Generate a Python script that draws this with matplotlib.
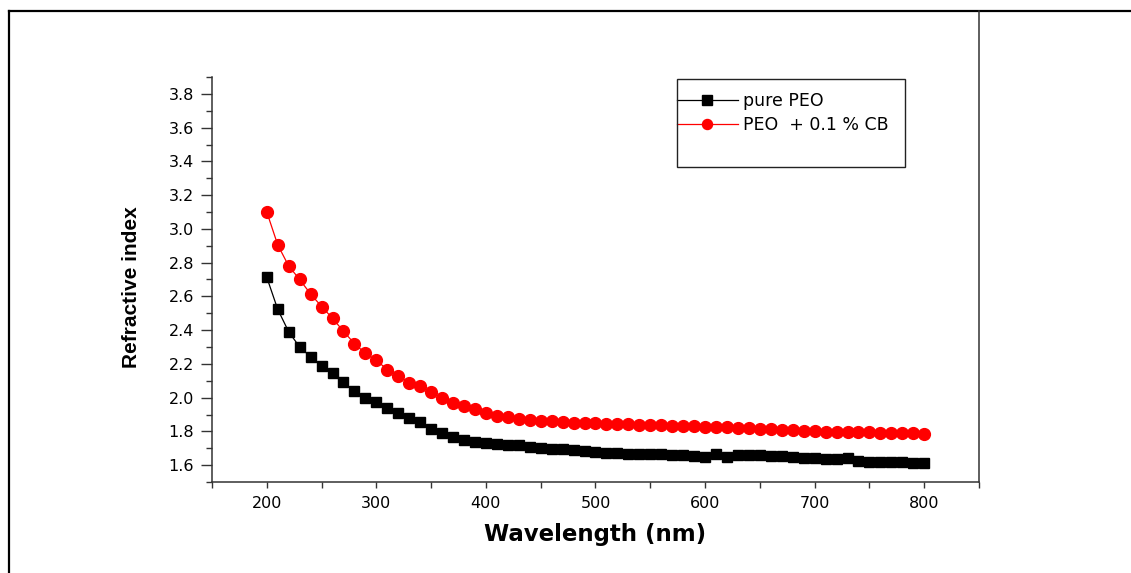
import matplotlib
matplotlib.use("Agg")
import matplotlib.pyplot as plt
from matplotlib import font_manager
from matplotlib.lines import Line2D
from matplotlib.patches import Rectangle
from matplotlib.ticker import MultipleLocator

# Data
wavelength = list(range(200, 801, 10))

pure_peo = [2.713, 2.523, 2.390, 2.300, 2.242, 2.185, 2.146, 2.091, 2.039, 1.997,
            1.972, 1.938, 1.906, 1.877, 1.857, 1.817, 1.788, 1.764, 1.748, 1.740,
            1.732, 1.728, 1.722, 1.717, 1.709, 1.703, 1.697, 1.693, 1.689, 1.685,
            1.679, 1.673, 1.669, 1.667, 1.667, 1.665, 1.663, 1.661, 1.659, 1.655,
            1.649, 1.665, 1.649, 1.661, 1.660, 1.658, 1.656, 1.654, 1.649, 1.640,
            1.645, 1.634, 1.634, 1.641, 1.622, 1.621, 1.620, 1.618, 1.616, 1.613,
            1.611]

peo_cb = [3.100, 2.905, 2.780, 2.700, 2.614, 2.540, 2.470, 2.393, 2.320, 2.262,
          2.221, 2.166, 2.130, 2.088, 2.069, 2.035, 1.995, 1.966, 1.950, 1.930,
          1.907, 1.890, 1.883, 1.875, 1.867, 1.863, 1.860, 1.855, 1.852, 1.848,
          1.847, 1.845, 1.843, 1.841, 1.839, 1.837, 1.835, 1.833, 1.831, 1.829,
          1.827, 1.825, 1.823, 1.821, 1.819, 1.817, 1.814, 1.811, 1.808, 1.804,
          1.800, 1.799, 1.797, 1.796, 1.795, 1.794, 1.793, 1.792, 1.790, 1.789,
          1.785]

labels = ["pure PEO", "PEO  + 0.1 % CB"]

# narrow font for the y label if there is one
installed = {f.name for f in font_manager.fontManager.ttflist}
if "Liberation Sans Narrow" in installed:
    ylab_font, ylab_size = "Liberation Sans Narrow", 17.5
elif "DejaVu Sans Condensed" in installed:
    ylab_font, ylab_size = "DejaVu Sans Condensed", 16.5
else:
    ylab_font, ylab_size = "Liberation Sans", 15

W, H = 1131, 573
fig = plt.figure(figsize=(W / 100, H / 100), dpi=100)
fig.patch.set_facecolor("white")

# axes placed in pixel terms
ax_l, ax_r, ax_t, ax_b = 212, 979, 77, 482
ax = fig.add_axes([ax_l / W, 1 - ax_b / H, (ax_r - ax_l) / W, (ax_b - ax_t) / H])

ax.plot(wavelength, pure_peo, color="black", lw=0.9, marker="s", ms=7.8,
        mec="black", mfc="black", label=labels[0])
ax.plot(wavelength, peo_cb, color="red", lw=0.9, marker="o", ms=8.5,
        mec="red", mfc="red", label=labels[1])

ax.set_xlim(150, 850)
ax.set_ylim(1.5, 3.9)
ax.xaxis.set_major_locator(MultipleLocator(100))
ax.xaxis.set_minor_locator(MultipleLocator(50))
ax.yaxis.set_major_locator(MultipleLocator(0.2))
ax.yaxis.set_minor_locator(MultipleLocator(0.1))
ax.set_xticks(range(200, 801, 100))

for s in ["top", "right"]:
    ax.spines[s].set_visible(False)
for s in ["left", "bottom"]:
    ax.spines[s].set_linewidth(1.1)
    ax.spines[s].set_color("#333333")

ax.tick_params(axis="both", which="both", direction="out", color="#333333", width=1.0)
ax.tick_params(axis="y", which="major", length=8, pad=5)
ax.tick_params(axis="y", which="minor", length=4)
ax.tick_params(axis="x", which="major", length=4, pad=6)
ax.tick_params(axis="x", which="minor", length=4)
for lab in ax.get_xticklabels() + ax.get_yticklabels():
    lab.set_fontfamily("DejaVu Sans")
    lab.set_fontsize(11.5)

ax.yaxis.set_major_formatter(plt.FuncFormatter(lambda v, p: "%.1f" % v))

ax.set_xlabel("Wavelength (nm)", fontsize=16.5, fontweight="bold",
              family="DejaVu Sans", labelpad=9)
ax.set_ylabel("Refractive index", fontsize=ylab_size, fontweight="bold",
              family=[ylab_font, "DejaVu Sans"])
ax.yaxis.set_label_coords(-0.092, 0.48)

# legend with its own box
leg = ax.legend(loc="upper left", bbox_to_anchor=(677 / W, 1 - 92 / H),
                bbox_transform=fig.transFigure, frameon=False,
                prop={"family": "DejaVu Sans", "size": 12.5},
                handlelength=3.5, handletextpad=0.3, borderpad=0,
                borderaxespad=0, labelspacing=0.35, markerscale=0.85)
fig.add_artist(Rectangle((677 / W, 1 - 167 / H), (905 - 677) / W, (167 - 79) / H,
                         transform=fig.transFigure, fill=False,
                         ec="#222222", lw=1.0))

# outer page frame lines
fig.add_artist(Line2D([9 / W, 1], [1 - 11 / H, 1 - 11 / H], color="black", lw=1.6))
fig.add_artist(Line2D([9 / W, 9 / W], [1 - 11 / H, 0], color="black", lw=1.6))
fig.add_artist(Line2D([ax_r / W, ax_r / W], [1 - 11 / H, 1 - ax_b / H],
                      color="#333333", lw=1.1))

fig.savefig("out.png", dpi=100)
